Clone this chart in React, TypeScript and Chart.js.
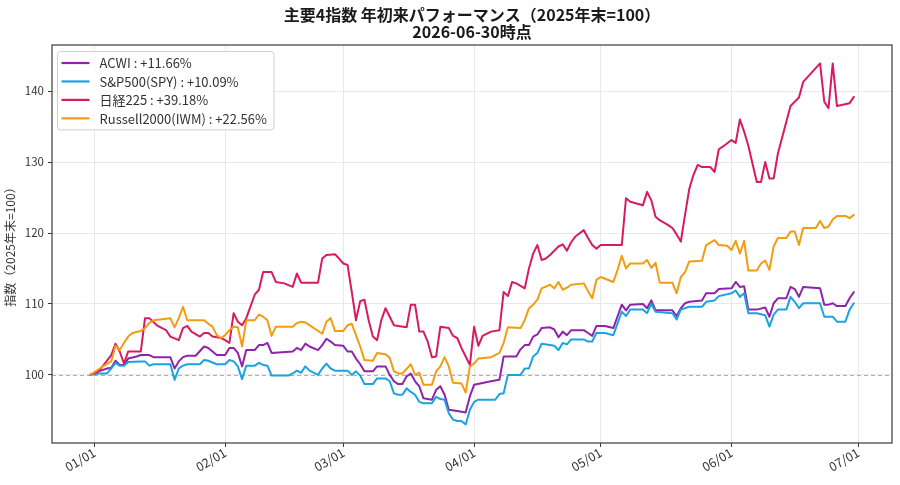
import React, { useEffect, useRef } from "react";
import { Chart, registerables } from "chart.js";

Chart.register(...registerables);

type Point = [number, number];

// Index levels rebased to 2025-12-31 = 100.
// First number: day offset from 2026-01-01 (-1 = base date), second: index level.
const acwiPoints: Point[] = [
  [-1, 100], [1, 100.5], [3, 100.9], [4, 101.0], [5, 102.0], [6, 101.4], [7, 101.4], [8, 102.3],
  [10, 102.6], [11, 102.8], [13, 102.8], [14, 102.5], [18, 102.5], [19, 100.9], [20, 101.9],
  [21, 102.5], [22, 102.7], [24, 102.7], [26, 104.0], [27, 103.8], [29, 102.8], [31, 102.8],
  [32, 103.8], [33, 103.8], [34, 103.1], [35, 101.2], [36, 103.5], [38, 103.5], [39, 104.2],
  [40, 104.2], [41, 104.5], [42, 103.1], [47, 103.3], [48, 103.8], [49, 103.5], [50, 104.4],
  [51, 104.0], [53, 103.5], [54, 104.2], [55, 105.1], [56, 104.7], [57, 104.2], [59, 104.1],
  [60, 103.3], [61, 103.3], [62, 102.3], [63, 101.5], [64, 100.5], [66, 100.5], [67, 101.2],
  [69, 101.2], [70, 100.0], [71, 99.1], [72, 98.7], [73, 98.7], [74, 99.8], [75, 100.2],
  [76, 99.1], [77, 98.4], [78, 96.7], [80, 96.5], [81, 97.9], [82, 98.4], [83, 97.2], [84, 95.1],
  [86, 94.9], [87, 94.8], [88, 94.7], [89, 97.0], [90, 98.6], [94, 99.1], [96, 99.3], [97, 102.6],
  [100, 102.6], [101, 103.6], [102, 104.2], [103, 104.2], [104, 105.4], [105, 105.7], [106, 106.6],
  [108, 106.7], [109, 106.4], [110, 105.3], [111, 106.1], [112, 105.6], [113, 106.3], [116, 106.3],
  [117, 105.9], [118, 105.5], [119, 106.9], [121, 106.9], [123, 106.6], [125, 109.9], [126, 109.1],
  [127, 109.9], [130, 110.0], [131, 109.4], [132, 110.5], [133, 109.1], [137, 109.1], [138, 108.3],
  [139, 109.4], [140, 110.1], [141, 110.3], [144, 110.5], [145, 111.5], [147, 111.5], [148, 112.1],
  [151, 112.2], [152, 113.1], [153, 112.4], [154, 112.5], [155, 109.2], [157, 109.2], [159, 109.5],
  [160, 108.2], [161, 110.1], [162, 110.8], [164, 110.8], [165, 112.4], [166, 112.1], [167, 111.0],
  [168, 112.4], [172, 112.2], [173, 109.9], [174, 109.9], [175, 110.1], [176, 109.7], [178, 109.7],
  [179, 110.8], [180, 111.66],
];

const spyPoints: Point[] = [
  [-1, 100], [1, 100.2], [3, 100.2], [4, 100.9], [5, 101.7], [6, 101.3], [7, 101.3], [8, 101.8],
  [11, 101.9], [12, 101.9], [13, 101.3], [14, 101.5], [18, 101.5], [19, 99.3], [20, 100.9],
  [21, 101.3], [22, 101.5], [25, 101.5], [26, 102.1], [27, 102.0], [29, 101.5], [31, 101.5],
  [32, 102.1], [33, 101.9], [34, 101.2], [35, 99.4], [36, 101.3], [38, 101.3], [39, 101.7],
  [40, 101.4], [41, 101.3], [42, 99.9], [46, 99.9], [47, 100.2], [48, 100.6], [49, 100.3],
  [50, 101.2], [51, 100.6], [53, 100.0], [54, 100.9], [55, 101.6], [56, 100.9], [57, 100.6],
  [60, 100.6], [61, 100.0], [62, 100.5], [63, 99.9], [64, 98.7], [66, 98.7], [67, 99.5], [69, 99.5],
  [70, 99.1], [71, 97.4], [72, 97.2], [73, 97.2], [74, 98.1], [75, 97.6], [76, 97.2], [77, 96.2],
  [78, 96.0], [80, 96.0], [81, 96.9], [82, 96.6], [83, 96.5], [84, 94.6], [85, 93.7], [86, 93.5],
  [87, 93.5], [88, 93.0], [89, 95.1], [90, 96.2], [91, 96.5], [95, 96.5], [96, 97.3], [97, 97.4],
  [98, 100.0], [101, 100.0], [102, 100.9], [103, 100.9], [104, 102.6], [105, 103.1], [106, 104.4],
  [108, 104.2], [109, 104.1], [110, 103.5], [111, 104.5], [112, 104.3], [113, 105.0], [116, 105.0],
  [117, 104.7], [118, 104.7], [119, 105.9], [121, 105.9], [123, 105.6], [125, 108.9], [126, 108.3],
  [127, 109.2], [130, 109.2], [131, 108.7], [132, 110.0], [133, 108.9], [137, 108.7], [138, 107.8],
  [139, 109.2], [141, 109.6], [144, 109.6], [145, 110.3], [147, 110.5], [148, 111.1], [151, 111.5],
  [152, 111.9], [153, 111.0], [154, 111.5], [155, 108.7], [157, 108.7], [159, 108.4], [160, 106.8],
  [161, 108.5], [162, 109.2], [164, 109.2], [165, 111.0], [166, 110.3], [167, 109.4], [168, 110.1],
  [172, 110.1], [173, 108.2], [175, 108.2], [176, 107.5], [178, 107.5], [179, 109.2], [180, 110.09],
];

const nikkeiPoints: Point[] = [
  [-1, 100], [1, 100.5], [4, 102.8], [5, 104.4], [6, 103.3], [7, 101.6], [8, 103.3], [11, 103.3],
  [12, 108.0], [13, 108.0], [15, 106.9], [17, 106.3], [18, 105.4], [20, 104.9], [21, 106.6],
  [22, 106.9], [23, 106.1], [25, 105.4], [26, 105.9], [27, 105.9], [28, 105.4], [30, 105.2],
  [31, 104.9], [32, 104.5], [33, 108.7], [34, 107.5], [35, 107.0], [36, 108.0], [38, 111.3],
  [39, 112.0], [40, 114.5], [42, 114.5], [43, 113.1], [45, 112.9], [47, 112.4], [48, 114.3],
  [49, 113.0], [53, 113.0], [54, 116.4], [55, 116.9], [57, 117.0], [58, 116.4], [59, 115.7],
  [60, 115.5], [61, 111.7], [62, 107.7], [63, 110.4], [64, 110.6], [65, 107.7], [66, 105.4],
  [67, 104.9], [68, 107.7], [69, 109.4], [70, 108.2], [71, 107.0], [72, 106.9], [74, 106.7],
  [75, 109.9], [76, 109.9], [77, 106.1], [78, 106.1], [79, 104.7], [80, 102.5], [81, 102.6],
  [82, 106.8], [84, 106.6], [85, 105.5], [86, 105.2], [87, 103.8], [88, 102.6], [89, 101.4],
  [90, 106.8], [91, 104.1], [92, 105.5], [94, 106.1], [96, 106.3], [97, 111.7], [98, 111.1],
  [99, 113.1], [100, 112.9], [102, 112.2], [103, 115.0], [104, 117.1], [105, 118.3], [106, 116.2],
  [107, 116.4], [108, 116.9], [110, 118.1], [111, 118.4], [112, 117.5], [113, 118.7], [114, 119.5],
  [116, 120.4], [117, 119.3], [118, 118.3], [119, 117.8], [120, 118.3], [125, 118.3], [126, 124.9],
  [127, 124.4], [130, 123.9], [131, 125.8], [132, 124.6], [133, 122.3], [134, 121.8], [136, 121.1],
  [137, 120.7], [138, 119.8], [139, 118.8], [140, 122.6], [141, 126.2], [142, 128.2], [143, 129.6],
  [144, 129.3], [146, 129.3], [147, 128.6], [148, 131.8], [149, 132.2], [151, 133.1], [152, 132.7],
  [153, 136.0], [154, 134.3], [155, 132.3], [157, 127.2], [158, 127.2], [159, 130.0], [160, 127.7],
  [161, 127.7], [162, 131.2], [165, 137.9], [166, 138.5], [167, 139.1], [168, 141.3], [172, 143.9],
  [173, 138.5], [174, 137.6], [175, 143.9], [176, 137.9], [179, 138.3], [180, 139.18],
];

const russellPoints: Point[] = [
  [-1, 100], [1, 100.8], [2, 101.2], [4, 101.9], [5, 104.1], [6, 103.5], [7, 104.5], [8, 105.4],
  [9, 105.9], [11, 106.2], [12, 106.6], [13, 107.3], [14, 107.7], [18, 108.0], [19, 106.7],
  [20, 108.0], [21, 109.6], [22, 107.7], [26, 107.7], [27, 107.2], [28, 106.8], [29, 105.6],
  [30, 105.2], [31, 105.6], [32, 106.3], [33, 106.8], [34, 106.7], [35, 104.0], [36, 107.7],
  [38, 107.7], [39, 108.5], [40, 108.2], [41, 107.7], [42, 105.5], [43, 106.8], [47, 106.8],
  [48, 107.3], [49, 107.5], [50, 107.4], [54, 105.8], [55, 107.5], [56, 108.0], [57, 106.2],
  [59, 106.2], [60, 107.0], [61, 107.2], [62, 105.6], [63, 104.0], [64, 102.1], [66, 102.0],
  [67, 103.1], [69, 102.9], [70, 102.4], [71, 100.5], [72, 100.2], [73, 100.2], [75, 101.5],
  [76, 100.0], [77, 100.3], [78, 98.6], [80, 98.6], [81, 100.5], [82, 101.2], [83, 102.5],
  [84, 101.2], [85, 98.9], [87, 98.8], [88, 97.5], [89, 101.2], [90, 101.6], [91, 102.3],
  [94, 102.5], [96, 103.1], [97, 104.5], [98, 106.7], [101, 106.6], [102, 107.7], [103, 109.4],
  [104, 109.9], [105, 110.6], [106, 112.2], [108, 112.7], [109, 112.2], [110, 113.1], [111, 112.0],
  [112, 112.3], [113, 112.7], [116, 112.9], [117, 111.8], [118, 110.8], [119, 113.4], [120, 113.8],
  [123, 113.1], [124, 114.8], [125, 116.8], [126, 115.0], [127, 115.7], [130, 115.7], [131, 116.2],
  [132, 115.1], [133, 115.8], [134, 113.0], [137, 113.0], [138, 111.5], [139, 113.8], [140, 114.5],
  [141, 116.0], [144, 116.1], [145, 118.3], [147, 119.0], [148, 118.3], [150, 118.2], [151, 117.6],
  [152, 118.9], [153, 117.1], [154, 118.9], [155, 114.7], [157, 114.7], [158, 115.7], [159, 116.1],
  [160, 114.8], [161, 118.1], [162, 119.3], [164, 119.3], [165, 120.2], [166, 120.2], [167, 118.3],
  [168, 120.7], [171, 120.7], [172, 121.7], [173, 120.7], [174, 120.9], [175, 121.9], [176, 122.4],
  [178, 122.4], [179, 122.1], [180, 122.56],
];

const seriesNames = ["ACWI", "S&P500(SPY)", "日経225", "Russell2000(IWM)"];
const seriesColors = ["#8e24aa", "#1aa3df", "#d81b60", "#f39c12"];
const seriesPoints = [acwiPoints, spyPoints, nikkeiPoints, russellPoints];

const baseValue = 100;
const monthStartDays = [0, 31, 59, 90, 120, 151, 181];
const monthLabels = ["01/01", "02/01", "03/01", "04/01", "05/01", "06/01", "07/01"];
const yTickValues = [100, 110, 120, 130, 140];

const titleLines = ["主要4指数 年初来パフォーマンス（2025年末=100）", "2026-06-30時点"];
const yAxisTitle = "指数（2025年末=100）";

const FONT = '"Noto Sans CJK JP", "Noto Sans", sans-serif';

const decorPlugin = {
  id: "decor",
  beforeDraw(chart: any) {
    const { ctx, width, height } = chart;
    ctx.save();
    ctx.fillStyle = "#ffffff";
    ctx.fillRect(0, 0, width, height);
    ctx.restore();
  },
  beforeDatasetsDraw(chart: any) {
    const { ctx, chartArea: a } = chart;
    const y = Math.round(chart.scales.y.getPixelForValue(baseValue)) + 0.5;
    ctx.save();
    ctx.strokeStyle = "#9a9a9a";
    ctx.lineWidth = 0.8;
    ctx.setLineDash([4, 3]);
    ctx.beginPath();
    ctx.moveTo(a.left, y);
    ctx.lineTo(a.right, y);
    ctx.stroke();
    ctx.restore();
  },
  afterDatasetsDraw(chart: any) {
    const { ctx, chartArea: a } = chart;
    ctx.save();
    ctx.strokeStyle = "#3a3a3a";
    ctx.lineWidth = 1.2;
    ctx.strokeRect(a.left, a.top, a.right - a.left, a.bottom - a.top);
    ctx.restore();
  },
  afterDraw(chart: any) {
    const { ctx, chartArea: a } = chart;
    ctx.save();
    // title
    ctx.fillStyle = "#1a1a1a";
    ctx.textAlign = "center";
    ctx.textBaseline = "middle";
    ctx.font = `bold 16px ${FONT}`;
    const cx = (a.left + a.right) / 2;
    ctx.fillText(titleLines[0], cx, 15);
    ctx.fillText(titleLines[1], cx, 32);

    // legend inside the plot, upper left
    ctx.font = `13px ${FONT}`;
    const labels: string[] = chart.data.datasets.map((d: any) => d.label);
    const textW = Math.max(...labels.map((l) => ctx.measureText(l).width));
    const x0 = a.left + 5.5;
    const y0 = a.top + 6.5;
    const rowH = 18.45;
    const w = 42 + textW + 7;
    const h = 11.5 + rowH * (labels.length - 1) + 11.5;
    ctx.beginPath();
    (ctx as any).roundRect(x0, y0, w, h, 3);
    ctx.fillStyle = "rgba(255,255,255,0.85)";
    ctx.fill();
    ctx.strokeStyle = "#d0d0d0";
    ctx.lineWidth = 1;
    ctx.stroke();
    ctx.textAlign = "left";
    labels.forEach((label, i) => {
      const y = y0 + 11.5 + i * rowH;
      ctx.strokeStyle = chart.data.datasets[i].borderColor;
      ctx.lineWidth = 2.2;
      ctx.beginPath();
      ctx.moveTo(x0 + 4, y);
      ctx.lineTo(x0 + 32, y);
      ctx.stroke();
      ctx.fillStyle = "#333333";
      ctx.fillText(label, x0 + 42, y + 0.5);
    });
    ctx.restore();
  },
};

export default function App() {
  const canvasRef = useRef<HTMLCanvasElement>(null);

  useEffect(() => {
    const canvas = canvasRef.current;
    if (!canvas) return;
    Chart.defaults.font.family = FONT;

    const datasets = seriesPoints.map((pts, i) => {
      const last = pts[pts.length - 1][1];
      const change = last - baseValue;
      return {
        label: `${seriesNames[i]} : ${change >= 0 ? "+" : ""}${change.toFixed(2)}%`,
        data: pts.map(([d, v]) => ({ x: d, y: v })),
        borderColor: seriesColors[i],
        backgroundColor: seriesColors[i],
        borderWidth: 2,
        pointRadius: 0,
        pointHoverRadius: 0,
        tension: 0,
        borderJoinStyle: "round" as const,
        borderCapStyle: "round" as const,
        order: seriesPoints.length - 1 - i,
      };
    });

    const chart = new Chart(canvas, {
      type: "line",
      data: { datasets },
      plugins: [decorPlugin],
      options: {
        responsive: false,
        animation: false,
        devicePixelRatio: 1,
        layout: { padding: { top: 45, right: 8, bottom: 0, left: 0 } },
        plugins: {
          legend: { display: false },
          title: { display: false },
          tooltip: { enabled: false },
        },
        scales: {
          x: {
            type: "linear",
            min: -10.05,
            max: 189.05,
            afterBuildTicks: (scale: any) => {
              scale.ticks = monthStartDays.map((v) => ({ value: v }));
            },
            afterFit: (scale: any) => {
              scale.height = 42;
            },
            ticks: {
              autoSkip: false,
              minRotation: 30,
              maxRotation: 30,
              padding: -2,
              color: "#333333",
              font: { size: 12.5 },
              callback: (v: any) => {
                const idx = monthStartDays.indexOf(Number(v));
                return idx >= 0 ? monthLabels[idx] : "";
              },
            },
            grid: {
              color: "#e8e8e8",
              lineWidth: 1,
              drawTicks: true,
              tickLength: 4,
              tickColor: "#3a3a3a",
              tickWidth: 1,
            },
            border: { display: false },
          },
          y: {
            type: "linear",
            min: 90.4,
            max: 146.5,
            afterBuildTicks: (scale: any) => {
              scale.ticks = yTickValues.map((v) => ({ value: v }));
            },
            afterFit: (scale: any) => {
              scale.width = 52;
            },
            ticks: {
              padding: 4,
              color: "#333333",
              font: { size: 11.5 },
              callback: (v: any) => String(v),
            },
            grid: {
              color: "#e8e8e8",
              lineWidth: 1,
              drawTicks: true,
              tickLength: 4,
              tickColor: "#3a3a3a",
              tickWidth: 1,
            },
            border: { display: false },
            title: {
              display: true,
              text: yAxisTitle,
              color: "#333333",
              font: { size: 12 },
              padding: { top: 3, bottom: 4 },
            },
          },
        },
      },
    });

    return () => chart.destroy();
  }, []);

  return (
    <div
      style={{
        position: "fixed",
        left: 0,
        top: 0,
        width: 900,
        height: 485,
        background: "#ffffff",
      }}
    >
      <canvas ref={canvasRef} width={900} height={485} style={{ display: "block" }} />
    </div>
  );
}
